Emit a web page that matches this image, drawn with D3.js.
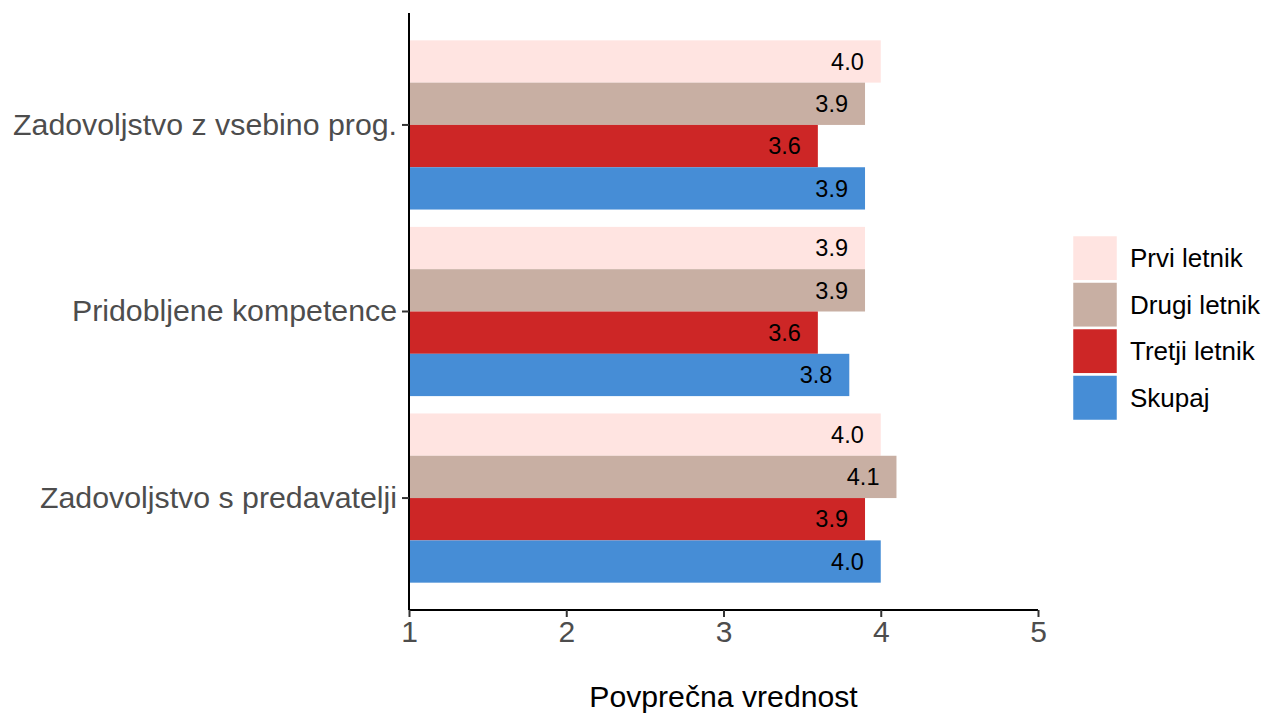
<!DOCTYPE html>
<html><head><meta charset="utf-8">
<script src="https://cdn.jsdelivr.net/npm/d3@7/dist/d3.min.js"></script>
<style>body{margin:0;background:#fff}svg{display:block}text{font-family:"Liberation Sans",Arial,sans-serif}</style>
</head><body><svg id="c" width="1266" height="716"></svg>
<script>
const categories = ["Zadovoljstvo z vsebino prog.", "Pridobljene kompetence", "Zadovoljstvo s predavatelji"];
const seriesNames = ["Prvi letnik", "Drugi letnik", "Tretji letnik", "Skupaj"];
const seriesColors = ["#FFE4E1", "#C8AFA3", "#CD2626", "#468DD6"];
const prvi = [4.0, 3.9, 4.0];
const drugi = [3.9, 3.9, 4.1];
const tretji = [3.6, 3.6, 3.9];
const skupaj = [3.9, 3.8, 4.0];
const xTicks = [1, 2, 3, 4, 5];
const xTitle = "Povprečna vrednost";

(function () {
const values = [prvi, drugi, tretji, skupaj];
const svg = d3.select("#c");
const pLeft = 409, pRight = 1038, pTop = 13, pBottom = 610;

const x = d3.scaleLinear().domain([1, 5]).range([pLeft, pRight]);
const y = d3.scaleBand().domain(categories).range([pTop, pBottom]).paddingInner(0.093).paddingOuter(0.1465);
const ys = d3.scaleBand().domain(seriesNames).range([0, y.bandwidth()]);
const color = d3.scaleOrdinal().domain(seriesNames).range(seriesColors);

const data = [];
categories.forEach((c, i) => seriesNames.forEach((s, j) => data.push({c, s, v: values[j][i]})));

svg.append("g").selectAll("rect").data(data).join("rect")
  .attr("x", x(1))
  .attr("y", d => y(d.c) + ys(d.s))
  .attr("width", d => x(d.v) - x(1))
  .attr("height", ys.bandwidth())
  .attr("fill", d => color(d.s));

svg.append("g").selectAll("text").data(data).join("text")
  .attr("x", d => x(d.v) - 17)
  .attr("y", d => y(d.c) + ys(d.s) + ys.bandwidth() / 2)
  .attr("dy", "0.35em")
  .attr("text-anchor", "end")
  .attr("font-size", 23.5)
  .attr("fill", "#000")
  .text(d => d.v.toFixed(1));

const xAxis = svg.append("g").attr("transform", `translate(0,${pBottom})`)
  .call(d3.axisBottom(x).tickValues(xTicks).tickFormat(d3.format("d")).tickSizeOuter(0).tickSize(7).tickPadding(4));
xAxis.select(".domain").attr("stroke", "#000").attr("stroke-width", 2).attr("d", `M${pLeft},0H${pRight}`);
xAxis.selectAll(".tick line").attr("stroke", "#333").attr("stroke-width", 2);
xAxis.selectAll(".tick text").attr("font-size", 30).attr("fill", "#4d4d4d").attr("font-family", "Liberation Sans, Arial, sans-serif");

const yAxis = svg.append("g").attr("transform", `translate(${pLeft},0)`)
  .call(d3.axisLeft(y).tickSizeOuter(0).tickSize(7).tickPadding(5));
yAxis.select(".domain").attr("stroke", "#000").attr("stroke-width", 2).attr("d", `M0,${pTop}V${pBottom}`);
yAxis.selectAll(".tick line").attr("stroke", "#333").attr("stroke-width", 2);
yAxis.selectAll(".tick text").attr("font-size", 30.3).attr("fill", "#4d4d4d").attr("font-family", "Liberation Sans, Arial, sans-serif");

svg.append("text").attr("x", (pLeft + pRight) / 2).attr("y", 707).attr("text-anchor", "middle")
  .attr("font-size", 30.2).attr("fill", "#000").text(xTitle);

const keyH = 46.5, legTop = 235, keyX = 1072;
const leg = svg.append("g");
seriesNames.forEach((s, i) => {
  leg.append("rect").attr("x", keyX).attr("y", legTop + i * keyH).attr("width", 46).attr("height", keyH)
    .attr("fill", color(s)).attr("stroke", "#fff").attr("stroke-width", 2.5);
  leg.append("text").attr("x", 1130).attr("y", legTop + i * keyH + keyH / 2).attr("dy", "0.35em")
    .attr("font-size", 26).attr("fill", "#000").text(s);
});
})();
</script></body></html>
